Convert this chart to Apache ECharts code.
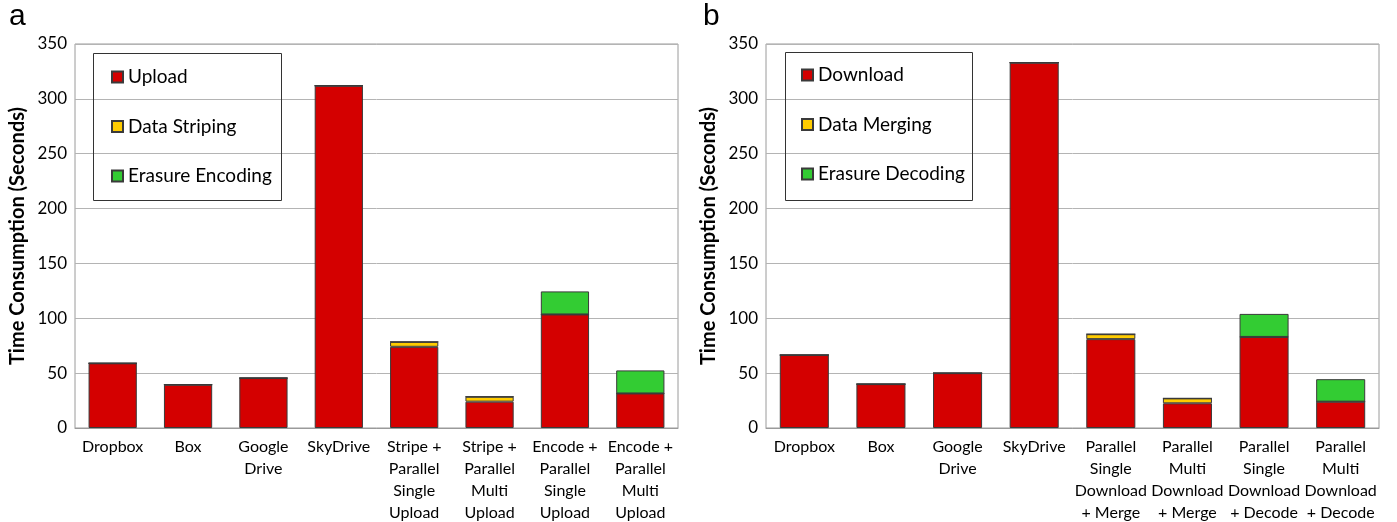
<!DOCTYPE html>
<html><head><meta charset="utf-8">
<script src="https://cdn.jsdelivr.net/npm/echarts@6/dist/echarts.min.js"></script>
<style>html,body{margin:0;padding:0;background:#fff}#c{width:1397px;height:522px}</style>
</head><body><div id="c"></div>
<script>
const catsA = ['Dropbox','Box','Google\nDrive','SkyDrive','Stripe +\nParallel\nSingle\nUpload','Stripe +\nParallel\nMulti\nUpload','Encode +\nParallel\nSingle\nUpload','Encode +\nParallel\nMulti\nUpload'];
const uploadA   = [59, 39.5, 45.5, 312, 74, 24, 103.5, 31.5];
const stripingA = [0, 0, 0, 0, 4.5, 4.5, 0, 0];
const encodingA = [0, 0, 0, 0, 0, 0, 21, 21];

const catsB = ['Dropbox','Box','Google\nDrive','SkyDrive','Parallel\nSingle\nDownload\n+ Merge','Parallel\nMulti\nDownload\n+ Merge','Parallel\nSingle\nDownload\n+ Decode','Parallel\nMulti\nDownload\n+ Decode'];
const downloadB = [66.5, 40, 50, 333, 81, 22.5, 83, 24];
const mergingB  = [0, 0, 0, 0, 4.5, 4.5, 0, 0];
const decodingB = [0, 0, 0, 0, 0, 0, 21, 20.5];

const yTicks = [0, 50, 100, 150, 200, 250, 300, 350];

const FONT = 'Lato';
const RED = '#D40000', YEL = '#FFCC00', GRN = '#33CC33';
const chart = echarts.init(document.getElementById('c'));

function xAx(idx, cats){
  return {type:'category', gridIndex: idx, data: cats,
    axisLine:{lineStyle:{color:'#9a9a9a', width:1}}, axisTick:{show:false},
    axisLabel:{fontFamily:FONT, fontSize:16, color:'#000', lineHeight:22, interval:0, margin:8}};
}
function yAx(idx){
  return {type:'value', gridIndex: idx, min: yTicks[0], max: yTicks[yTicks.length-1], interval: 50,
    name:'Time Consumption (Seconds)', nameLocation:'middle', nameGap: 47, nameRotate: 90,
    nameTextStyle:{fontFamily:FONT, fontSize:20, fontWeight:'bold', color:'#000'},
    axisLine:{show:false}, axisTick:{show:false},
    axisLabel:{fontFamily:FONT, fontSize:17, color:'#000', margin:8},
    splitLine:{lineStyle:{color:'#b4b4b4', width:1}}};
}
function bar(name, data, color, idx){
  return {name, type:'bar', stack:'s'+idx, xAxisIndex:idx, yAxisIndex:idx, data,
    barWidth:'64%', itemStyle:{color, borderColor:'#3a3a3a', borderWidth:1}};
}
function legend(left, top, names){
  return {orient:'vertical', left, top, data:names, icon:'rect', itemWidth:11, itemHeight:11,
    itemGap:29.5, selectedMode:false, padding:0,
    textStyle:{fontFamily:FONT, fontSize:19, color:'#000', lineHeight:20}};
}

chart.setOption({
  animation:false,
  grid:[
    {left:75, right:719, top:44, bottom:94, show:true, borderColor:'#9a9a9a', borderWidth:1, outerBoundsMode:'none', containLabel:false},
    {left:766, right:18, top:44, bottom:94, show:true, borderColor:'#9a9a9a', borderWidth:1, outerBoundsMode:'none', containLabel:false}
  ],
  xAxis:[xAx(0, catsA), xAx(1, catsB)],
  yAxis:[yAx(0), yAx(1)],
  legend:[
    legend(111, 67, ['Upload','Data Striping','Erasure Encoding']),
    legend(801, 65, ['Download','Data Merging','Erasure Decoding'])
  ],
  graphic:[
    {type:'rect', shape:{x:93.5, y:53.5, width:188, height:147}, style:{fill:'none', stroke:'#333', lineWidth:1}, z:100},
    {type:'rect', shape:{x:785.5, y:52.5, width:187, height:148}, style:{fill:'none', stroke:'#333', lineWidth:1}, z:100},
    {type:'text', left:9, top:2, style:{text:'a', font:'30px "Liberation Sans"', fill:'#000'}},
    {type:'text', left:703, top:2, style:{text:'b', font:'30px "Liberation Sans"', fill:'#000'}}
  ],
  series:[
    bar('Upload', uploadA, RED, 0),
    bar('Data Striping', stripingA, YEL, 0),
    bar('Erasure Encoding', encodingA, GRN, 0),
    bar('Download', downloadB, RED, 1),
    bar('Data Merging', mergingB, YEL, 1),
    bar('Erasure Decoding', decodingB, GRN, 1)
  ]
});
</script></body></html>
